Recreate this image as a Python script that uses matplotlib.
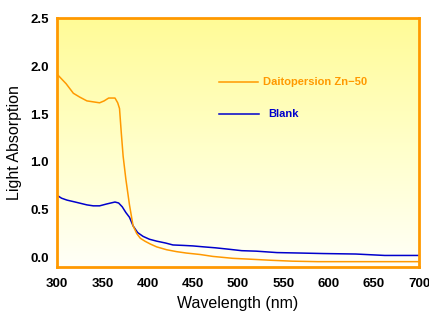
import numpy as np
import matplotlib
matplotlib.use("Agg")
import matplotlib.pyplot as plt
from matplotlib.colors import LinearSegmentedColormap

# Daitopersion Zn-50 (lecture sur l'image)
wl_zn = [300, 310, 318, 325, 333, 340, 347, 352, 357, 364, 367, 369, 371, 373, 376,
         380, 384, 388, 392, 397, 403, 410, 421, 432, 443, 458, 472, 483, 494, 515,
         535, 560, 588, 620, 660, 700]
abs_zn = [1.92, 1.82, 1.72, 1.68, 1.64, 1.63, 1.62, 1.64, 1.67, 1.67, 1.62, 1.56, 1.30, 1.06, 0.82,
          0.55, 0.33, 0.25, 0.20, 0.17, 0.14, 0.11, 0.08, 0.06, 0.045, 0.03, 0.01, 0.0, -0.01, -0.02,
          -0.03, -0.04, -0.045, -0.045, -0.045, -0.045]

# Blank
wl_blank = [300, 305, 311, 320, 333, 340, 347, 355, 364, 368, 372, 376, 380, 384, 389,
            395, 402, 410, 420, 428, 440, 450, 462, 475, 490, 504, 520, 543, 570, 594,
            630, 662, 680, 700]
abs_blank = [0.65, 0.62, 0.60, 0.58, 0.55, 0.54, 0.54, 0.56, 0.58, 0.57, 0.53, 0.47, 0.42, 0.33, 0.26,
             0.22, 0.19, 0.17, 0.15, 0.13, 0.125, 0.12, 0.11, 0.10, 0.085, 0.07, 0.065, 0.05, 0.045, 0.04,
             0.035, 0.02, 0.02, 0.02]

x_ticks = [300, 350, 400, 450, 500, 550, 600, 650, 700]
y_ticks = [0.0, 0.5, 1.0, 1.5, 2.0, 2.5]

ORANGE = "#FF9900"
BLEU = "#0000CC"

plt.rcParams["font.family"] = ["Liberation Sans", "DejaVu Sans"]

fig = plt.figure(figsize=(4.29, 3.14), dpi=100)
ax = fig.add_axes([0.133, 0.150, 0.844, 0.793])

# fond en dégradé jaune -> blanc
fond = LinearSegmentedColormap.from_list("fond", ["#FFFFF8", "#FFFFC8", "#FFFB96"])
grad = np.linspace(0, 1, 256).reshape(-1, 1)
ax.imshow(grad, cmap=fond, aspect="auto", origin="lower",
          extent=[0, 1, 0, 1], transform=ax.transAxes, zorder=0)

ax.plot(wl_zn, abs_zn, color=ORANGE, lw=1.1, zorder=3)
ax.plot(wl_blank, abs_blank, color=BLEU, lw=1.1, zorder=2)

ax.set_xlim(300, 700)
ax.set_ylim(-0.1, 2.51)
ax.set_xticks(x_ticks)
ax.set_yticks(y_ticks)
ax.set_xticklabels([str(v) for v in x_ticks], fontweight="bold", fontsize=9.5)
ax.set_yticklabels(["%.1f" % v for v in y_ticks], fontweight="bold", fontsize=9.5)
ax.tick_params(length=0, pad=6)
ax.tick_params(axis="x", pad=8)

for s in ax.spines.values():
    s.set_color(ORANGE)
    s.set_linewidth(2)

ax.set_xlabel("Wavelength (nm)", fontsize=11.5, labelpad=4)
ax.set_ylabel("Light Absorption", fontsize=11.5, labelpad=6)

# légende faite à la main
ax.plot([0.4475, 0.555], [0.743, 0.743], color=ORANGE, lw=1.1, transform=ax.transAxes)
ax.text(0.569, 0.743, "Daitopersion Zn\u221250", color=ORANGE, fontweight="bold",
        fontsize=8, va="center", transform=ax.transAxes)
ax.plot([0.4475, 0.557], [0.614, 0.614], color=BLEU, lw=1.1, transform=ax.transAxes)
ax.text(0.583, 0.614, "Blank", color=BLEU, fontweight="bold",
        fontsize=8, va="center", transform=ax.transAxes)

fig.savefig("out.png", dpi=100)
